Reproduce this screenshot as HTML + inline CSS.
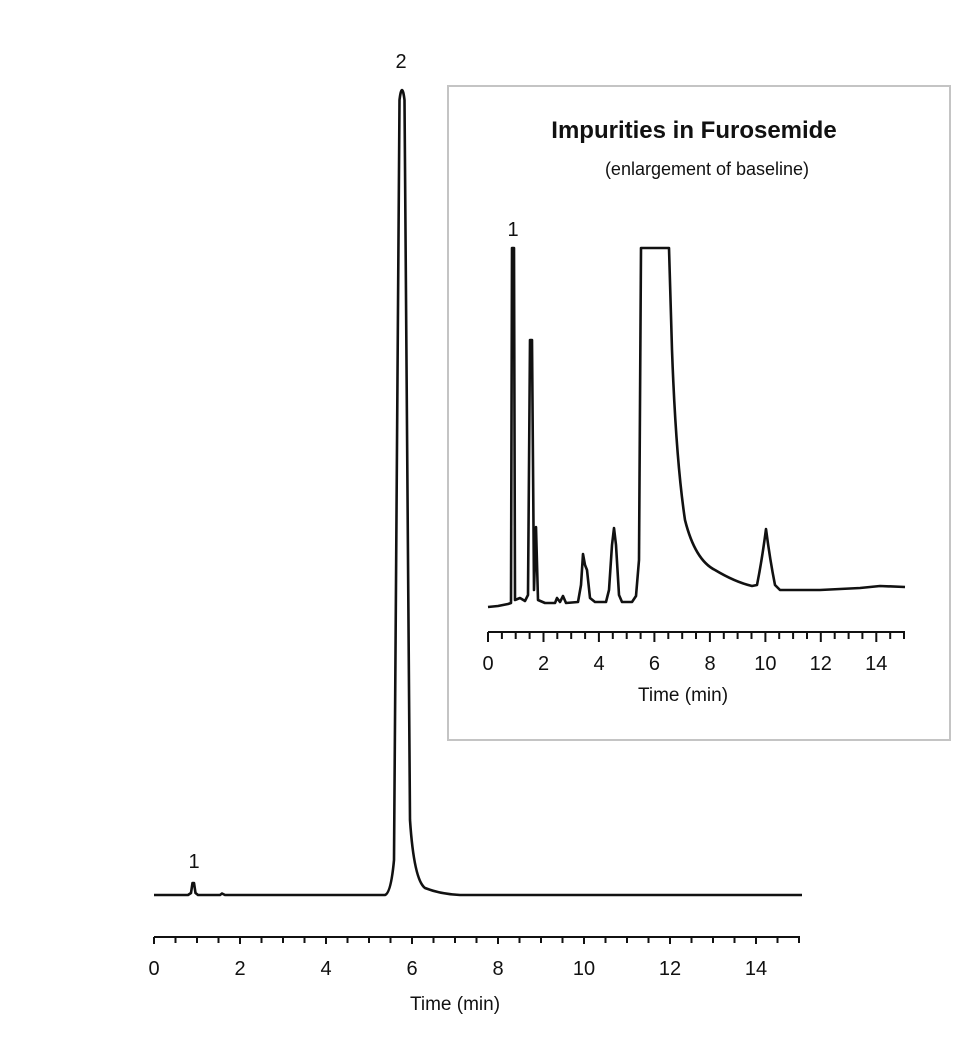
<!DOCTYPE html>
<html><head><meta charset="utf-8"><style>
html,body{margin:0;padding:0;background:#fff;}
svg{display:block;font-family:"Liberation Sans",sans-serif;}
</style></head><body>
<svg width="975" height="1047" viewBox="0 0 975 1047" xmlns="http://www.w3.org/2000/svg">
<rect width="975" height="1047" fill="#fff"/>
<rect x="448" y="86" width="502" height="654" fill="none" stroke="#c4c4c4" stroke-width="2"/>
<g fill="none" stroke="#111" stroke-width="2.6" stroke-linejoin="round">
<path d="M154,895 L188,895 L191,893 L192.5,883 L194,883 L195.5,893 L198,895 L220,895 L222,893.5 L225,895 L385,895 Q391,893 394,860 L399.5,100 Q402,80 404.5,100 L410,820 Q414,880 425,888 Q440,894 460,895 L802,895"/>
<path d="M488,607 L498,606 L508,604 L511,603 L512,248 L514,248 L515,600 L520,598 L525,601 L528,595 L530,340 L532,340 L534,590 L536,527 L538,600 L545,603 L555,603 L557,598 L560,602 L563,596 L566,603 L578,602 L581,585 L583,554 L585,565 L587,570 L590,598 L595,602 L606,602 L609,590 L612,545 L614,528 L616,545 L619,595 L622,602 L632,602 L636,596 L639,560 L641,248 L669,248 L672,350 Q676,460 685,520 Q695,560 715,570 Q735,582 752,586 L757,585 Q762,560 766,529 Q770,560 775,585 L780,590 L820,590 L860,588 L880,586 L905,587"/>
</g>
<g stroke="#111" stroke-width="2" fill="none">
<path d="M154,937 L800,937"/>
<path d="M154,937v7M175.5,937v6M197,937v6M218.5,937v6M240,937v7M261.5,937v6M283,937v6M304.5,937v6M326,937v7M347.5,937v6M369,937v6M390.5,937v6M412,937v7M433.5,937v6M455,937v6M476.5,937v6M498,937v7M519.5,937v6M541,937v6M562.5,937v6M584,937v7M605.5,937v6M627,937v6M648.5,937v6M670,937v7M691.5,937v6M713,937v6M734.5,937v6M756,937v7M777.5,937v6M799,937v6"/>
<path d="M488,632 L905,632"/>
<path d="M488,632v10M501.9,632v7M515.7,632v7M529.6,632v7M543.5,632v10M557.3,632v7M571.2,632v7M585.1,632v7M598.9,632v10M612.8,632v7M626.7,632v7M640.6,632v7M654.4,632v10M668.3,632v7M682.2,632v7M696,632v7M709.9,632v10M723.8,632v7M737.6,632v7M751.5,632v7M765.4,632v10M779.2,632v7M793.1,632v7M807,632v7M820.8,632v10M834.7,632v7M848.6,632v7M862.4,632v7M876.3,632v10M890.2,632v7M904,632v7"/>
</g>
<g fill="#111" font-size="20" text-anchor="middle">
<text x="154" y="975">0</text><text x="240" y="975">2</text><text x="326" y="975">4</text><text x="412" y="975">6</text><text x="498" y="975">8</text><text x="584" y="975">10</text><text x="670" y="975">12</text><text x="756" y="975">14</text>
<text x="455" y="1010" font-size="19">Time (min)</text>
<text x="194" y="868" font-size="20">1</text>
<text x="401" y="68" font-size="20">2</text>
<text x="488" y="670">0</text><text x="543.5" y="670">2</text><text x="599" y="670">4</text><text x="654.4" y="670">6</text><text x="710" y="670">8</text><text x="765.4" y="670">10</text><text x="820.8" y="670">12</text><text x="876.3" y="670">14</text>
<text x="683" y="701" font-size="19">Time (min)</text>
<text x="513" y="236" font-size="20">1</text>
<text x="694" y="138" font-size="24" font-weight="bold">Impurities in Furosemide</text>
<text x="707" y="175" font-size="18">(enlargement of baseline)</text>
</g>
</svg>
</body></html>
